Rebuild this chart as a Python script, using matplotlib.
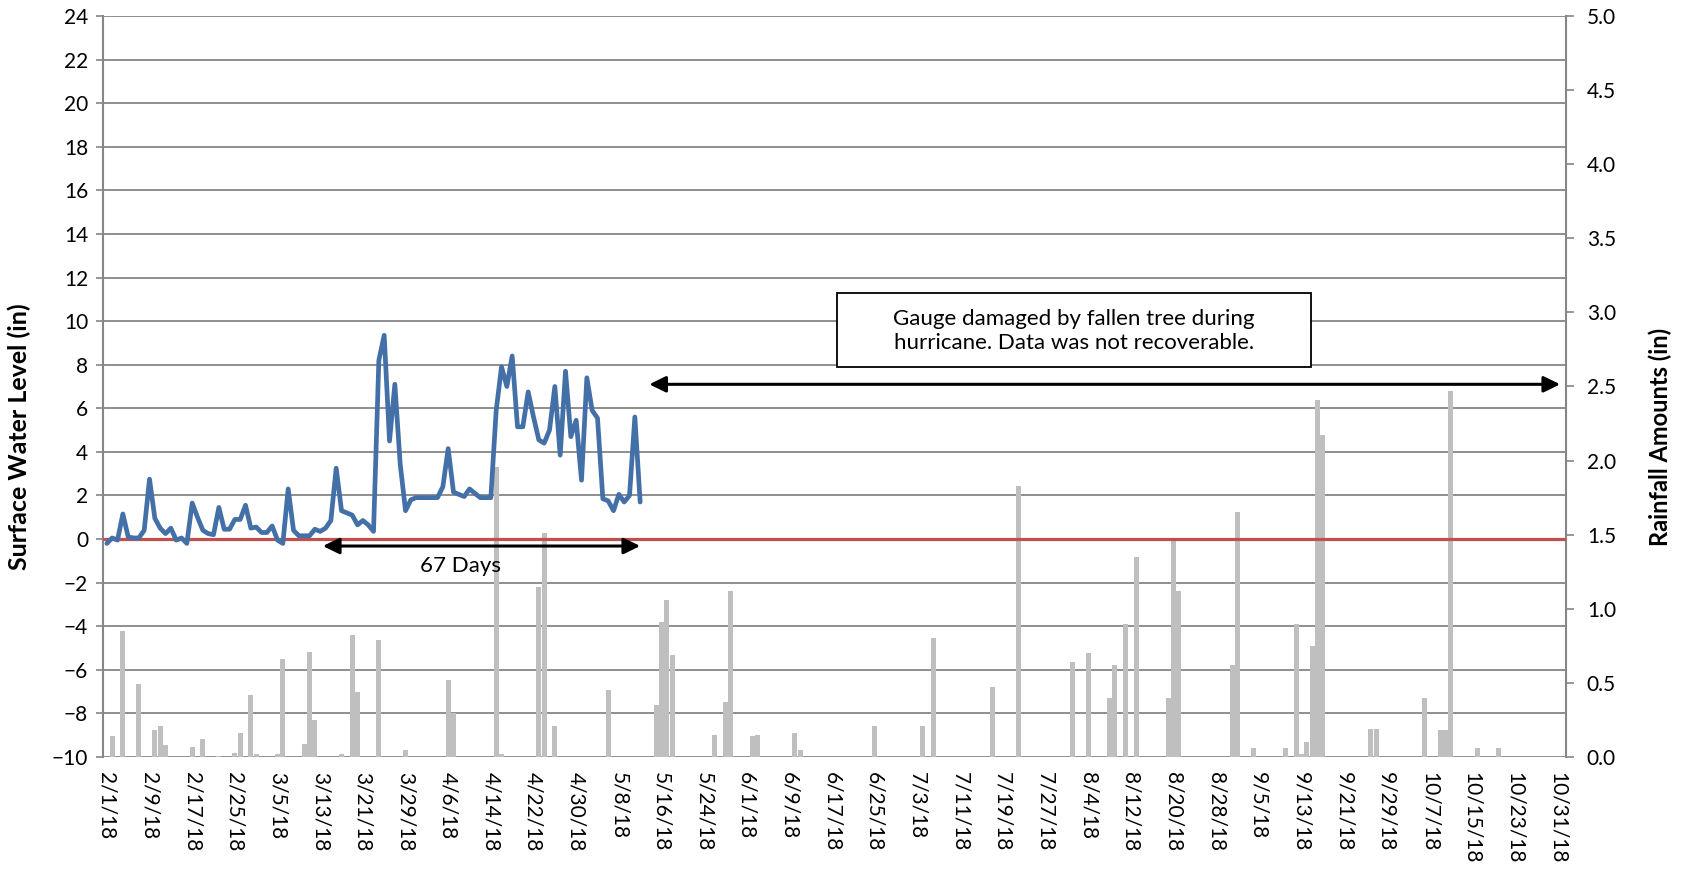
import numpy as np
import pandas as pd
import matplotlib
matplotlib.use('Agg')
import matplotlib.pyplot as plt
import matplotlib.dates as mdates
from matplotlib.patches import Rectangle

plt.rcParams['font.family'] = ['Lato', 'DejaVu Sans']

# Surface water level (in), one reading per day starting 2/1/18
level_start = '2018-02-01'
level_in = [-0.2, 0.05, -0.05, 1.15, 0.1, 0.05, 0.05, 0.4, 2.75, 0.95,
            0.5, 0.25, 0.5, -0.05, 0.05, -0.2, 1.65, 1.0, 0.4, 0.25,
            0.2, 1.45, 0.45, 0.45, 0.9, 0.9, 1.55, 0.5, 0.55, 0.3,
            0.3, 0.6, -0.05, -0.2, 2.3, 0.4, 0.15, 0.15, 0.15, 0.45,
            0.35, 0.5, 0.85, 3.25, 1.3, 1.2, 1.1, 0.65, 0.85, 0.65,
            0.35, 8.2, 9.35, 4.5, 7.1, 3.45, 1.3, 1.8, 1.9, 1.9,
            1.9, 1.9, 1.9, 2.4, 4.15, 2.15, 2.05, 1.95, 2.3, 2.1,
            1.9, 1.9, 1.9, 5.9, 7.9, 7.0, 8.4, 5.15, 5.15, 6.75,
            5.6, 4.55, 4.4, 5.0, 7.0, 3.85, 7.7, 4.7, 5.45, 2.7,
            7.4, 5.9, 5.55, 1.85, 1.75, 1.3, 2.05, 1.7, 2.0, 5.6,
            1.7]

# Daily rainfall (in), only days with rain
rain_dates = ['2/2', '2/4', '2/7', '2/10', '2/11', '2/12', '2/17', '2/19', '2/22', '2/25',
              '2/26', '2/28', '3/1', '3/5', '3/6', '3/10', '3/11', '3/12', '3/17', '3/19',
              '3/20', '3/24', '3/29', '4/6', '4/7', '4/15', '4/16', '4/23', '4/24', '4/26',
              '5/6', '5/15', '5/16', '5/17', '5/18', '5/26', '5/28', '5/29', '6/2', '6/3',
              '6/10', '6/11', '6/25', '7/4', '7/6', '7/17', '7/22', '8/1', '8/4', '8/8',
              '8/9', '8/11', '8/13', '8/19', '8/20', '8/21', '8/31', '9/1', '9/4', '9/10',
              '9/12', '9/13', '9/14', '9/15', '9/16', '9/17', '9/26', '9/27', '10/6', '10/9',
              '10/10', '10/11', '10/16', '10/20']
rain_in = [0.14, 0.85, 0.49, 0.18, 0.21, 0.08, 0.07, 0.12, 0.01, 0.03,
           0.16, 0.42, 0.02, 0.02, 0.66, 0.09, 0.71, 0.25, 0.02, 0.82,
           0.44, 0.79, 0.05, 0.52, 0.30, 1.96, 0.02, 1.15, 1.51, 0.21,
           0.45, 0.35, 0.91, 1.06, 0.69, 0.15, 0.37, 1.12, 0.14, 0.15,
           0.16, 0.05, 0.21, 0.21, 0.80, 0.47, 1.83, 0.64, 0.70, 0.40,
           0.62, 0.90, 1.35, 0.40, 1.48, 1.12, 0.62, 1.65, 0.06, 0.06,
           0.90, 0.02, 0.10, 0.75, 2.41, 2.17, 0.19, 0.19, 0.40, 0.18,
           0.18, 2.47, 0.06, 0.06]

tick_start, tick_end = '2018-02-01', '2018-10-31'
level_ticks = list(range(-10, 25, 2))
rain_ticks = [0.0, 0.5, 1.0, 1.5, 2.0, 2.5, 3.0, 3.5, 4.0, 4.5, 5.0]

level_dates = pd.date_range(level_start, periods=len(level_in), freq='D')
rain_x = pd.to_datetime([d + '/2018' for d in rain_dates], format='%m/%d/%Y')
tick_dates = pd.date_range(tick_start, tick_end, freq='8D')
tick_labels = [f'{d.month}/{d.day}/{d:%y}' for d in tick_dates]

grid_col = '#868686'
fig = plt.figure(figsize=(16.83, 8.69), dpi=100, facecolor='white')
ax = fig.add_axes([0.0614, 0.1289, 0.8691, 0.8527])
ax2 = ax.twinx()
ax3 = ax.twinx()

t0 = mdates.date2num(pd.Timestamp(tick_start))
ax.set_xlim(t0 - 0.66, t0 + 273.6)

# left axis: grid + ticks (bottom layer)
ax.set_ylim(-10, 24)
ax.set_yticks(level_ticks)
ax.yaxis.grid(True, color=grid_col, linewidth=1.3)
ax.set_axisbelow(True)
ax.tick_params(axis='y', labelsize=15, length=5, width=1.2, color=grid_col, pad=6)
ax.set_xticks(mdates.date2num(tick_dates))
ax.set_xticklabels(tick_labels, rotation=270, fontsize=15, va='top', ha='center')
ax.tick_params(axis='x', length=0, pad=11)
for s in ['top', 'bottom', 'right']:
    ax.spines[s].set_visible(False)
ax.spines['left'].set_color(grid_col)
ax.spines['left'].set_linewidth(1.5)
ax.set_ylabel('Surface Water Level (in)', fontsize=18, fontweight='bold')
ax.yaxis.set_label_coords(-0.0576, 0.432)
ax.yaxis.label.set_verticalalignment('center')

# right axis: rainfall bars
ax2.bar(rain_x, rain_in, width=0.9, color='#BFBFBF', linewidth=0)
ax2.set_ylim(0, 5)
ax2.set_yticks(rain_ticks)
ax2.set_yticklabels([f'{v:.1f}' for v in rain_ticks])
ax2.tick_params(axis='y', labelsize=15, length=6, width=1.2, color=grid_col, pad=9)
for s in ['top', 'bottom', 'left']:
    ax2.spines[s].set_visible(False)
ax2.spines['right'].set_color(grid_col)
ax2.spines['right'].set_linewidth(1.5)
ax2.set_ylabel('Rainfall Amounts (in)', fontsize=17, fontweight='bold', rotation=90)
ax2.yaxis.set_label_coords(1.0643, 0.432)
ax2.yaxis.label.set_verticalalignment('center')

# top layer: water level, zero line, annotations
ax3.set_ylim(-10, 24)
ax3.axis('off')
ax3.axhline(0, color='#C0504D', linewidth=2.3)
ax3.plot(level_dates, level_in, color='#4470A8', linewidth=3.4,
         solid_joinstyle='round', solid_capstyle='round')

astyle = '<|-|>,head_length=0.45,head_width=0.22'
ax3.annotate('', xy=(t0 + 100.0, -0.32), xytext=(t0 + 40.5, -0.32),
             arrowprops=dict(arrowstyle=astyle, color='black', lw=2.2,
                             mutation_scale=22, shrinkA=0, shrinkB=0))
ax3.text(t0 + 66.4, -1.24, '67 Days', fontsize=16, ha='center', va='center')

ax3.annotate('', xy=(t0 + 272.5, 7.1), xytext=(t0 + 101.7, 7.1),
             arrowprops=dict(arrowstyle=astyle, color='black', lw=2.2,
                             mutation_scale=22, shrinkA=0, shrinkB=0))
ax3.add_patch(Rectangle((0.5016, 0.5263), 0.3241, 0.0999, transform=ax3.transAxes,
                        facecolor='white', edgecolor='black', linewidth=1.3, zorder=5))
ax3.text(0.6637, 0.575, 'Gauge damaged by fallen tree during\nhurricane. Data was not recoverable.',
         transform=ax3.transAxes, fontsize=16, ha='center', va='center',
         linespacing=1.2, zorder=6)

fig.savefig('out.png', dpi=100, facecolor='white')
